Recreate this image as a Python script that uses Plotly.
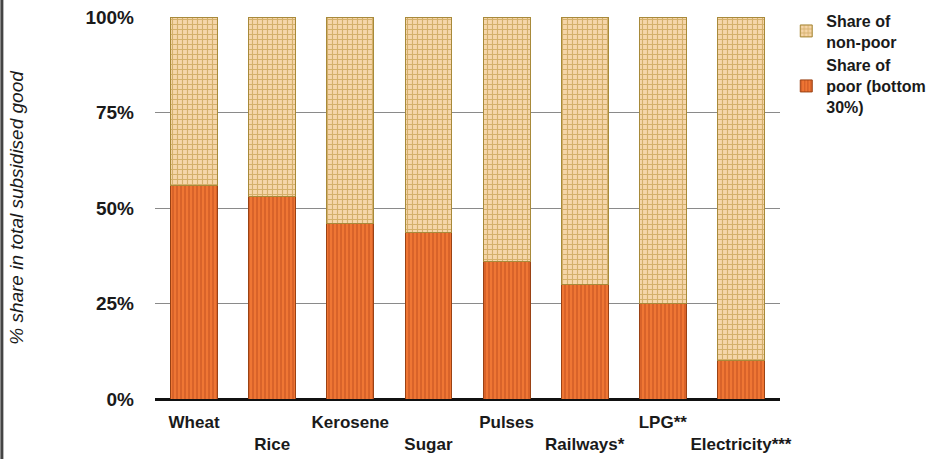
import plotly.graph_objects as go

categories = ["Wheat", "Rice", "Kerosene", "Sugar", "Pulses", "Railways*", "LPG**", "Electricity***"]
poor_share = [56, 53, 46, 43.5, 36, 30, 25, 10]
non_poor_share = [100 - v for v in poor_share]
tick_labels = ["Wheat", "<br>Rice", "Kerosene", "<br>Sugar", "Pulses", "<br>Railways*", "LPG**", "<br>Electricity***"]
y_ticks = [0, 25, 50, 75, 100]
y_tick_labels = ["0%", "25%", "50%", "75%", "100%"]

fig = go.Figure()
fig.add_trace(go.Bar(
    x=categories, y=poor_share, name="Share of<br>poor (bottom<br>30%)",
    marker=dict(color="#E9692A",
                line=dict(color="#9A4214", width=1),
                pattern=dict(shape="|", fgcolor="#B8461A", bgcolor="#EF7634", size=4, solidity=0.4)),
))
fig.add_trace(go.Bar(
    x=categories, y=non_poor_share, name="Share of<br>non-poor",
    marker=dict(color="#F4D0A2",
                line=dict(color="#A88A3A", width=1),
                pattern=dict(shape="+", fgcolor="#B28A2C", bgcolor="#F6D6AA", size=5, solidity=0.4)),
))

fig.update_layout(
    barmode="stack",
    bargap=0.4,
    width=947, height=459,
    margin=dict(l=155, r=167, t=17, b=60, autoexpand=False),
    paper_bgcolor="white", plot_bgcolor="white",
    font=dict(family="Liberation Sans, Arial, sans-serif", color="#1a1a1a"),
    showlegend=True,
    legend=dict(x=1.01, y=1.035, xanchor="left", yanchor="top",
                traceorder="reversed",
                font=dict(size=16, weight="bold", color="#1a1a1a"),
                itemwidth=30, tracegroupgap=10,
                bgcolor="rgba(0,0,0,0)"),
    xaxis=dict(
        tickmode="array", tickvals=categories, ticktext=tick_labels,
        tickfont=dict(size=17, weight="bold", color="#1a1a1a"),
        showgrid=False, showline=False, ticks="", automargin=False,
        ticklabelstandoff=11,
        range=[-0.5, 7.5],
    ),
    yaxis=dict(
        range=[0, 100], tickvals=y_ticks, ticktext=y_tick_labels,
        tickfont=dict(size=19, weight="bold", color="#1a1a1a"),
        showgrid=True, gridcolor="#8a8a8a", gridwidth=1,
        zeroline=True, zerolinecolor="#111", zerolinewidth=3,
        showline=False, ticks="", ticklabelstandoff=20, automargin=False,
        title=dict(text="% share in total subsidised good",
                   font=dict(size=19, style="italic", color="#1a1a1a"), standoff=56),
    ),
    shapes=[dict(type="line", xref="paper", yref="paper", x0=-0.245, x1=-0.245, y0=-0.2, y1=1.1,
                 line=dict(color="#444", width=3))],
)

fig.write_html("out.html", config={"displayModeBar": False},
               post_script="document.body.style.margin='0';")
